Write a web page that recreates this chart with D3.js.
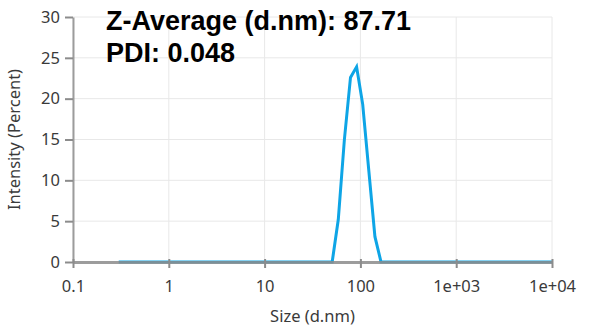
<!DOCTYPE html>
<html>
<head>
<meta charset="utf-8">
<script src="https://cdn.jsdelivr.net/npm/d3@7"></script>
<style>
  body { margin: 0; background: #fff; }
  svg { display: block; }
</style>
</head>
<body>
<div id="chart"></div>
<script>
// size distribution
var sizes = [0.3, 50.75, 58.77, 68.06, 78.82, 91.28, 105.7, 122.4, 141.8, 164.2, 10000];
var intensity = [0, 0, 5.2, 15.0, 22.6, 23.9, 19.3, 11.2, 3.1, 0, 0];
var xTicks = [0.1, 1, 10, 100, 1000, 10000];
var xTickLabels = ["0.1", "1", "10", "100", "1e+03", "1e+04"];
var yTicks = [0, 5, 10, 15, 20, 25, 30];
var zAverage = "87.71";
var pdi = "0.048";

var svgWidth = 593;
var svgHeight = 329;

var margin = { top: 17, right: 41, bottom: 67, left: 73 };
var width = svgWidth - margin.left - margin.right;
var height = svgHeight - margin.top - margin.bottom;

var svg = d3.select("#chart")
  .append("svg")
  .attr("width", svgWidth)
  .attr("height", svgHeight);

var chartGroup = svg.append("g")
  .attr("transform", `translate(${margin.left}, ${margin.top})`);

var x = d3.scaleLog().domain([0.1, 10000]).range([0, width]);
var y = d3.scaleLinear().domain([0, 30]).range([height, 0]);

// gridlines
chartGroup.append("g")
  .selectAll("line.hgrid")
  .data(yTicks)
  .enter()
  .append("line")
  .attr("x1", 0)
  .attr("x2", width)
  .attr("y1", d => y(d))
  .attr("y2", d => y(d))
  .attr("stroke", "#e8e8e8")
  .attr("stroke-width", 1);

chartGroup.append("g")
  .selectAll("line.vgrid")
  .data(xTicks)
  .enter()
  .append("line")
  .attr("x1", d => x(d))
  .attr("x2", d => x(d))
  .attr("y1", 0)
  .attr("y2", height)
  .attr("stroke", "#e8e8e8")
  .attr("stroke-width", 1);

// the distribution line
var line = d3.line()
  .x((d, i) => x(sizes[i]))
  .y(d => y(d));

chartGroup.append("path")
  .datum(intensity)
  .attr("d", line)
  .attr("fill", "none")
  .attr("stroke", "#0ea5e6")
  .attr("stroke-width", 3)
  .attr("stroke-linejoin", "miter");

// axes
var bottomAxis = d3.axisBottom(x)
  .tickValues(xTicks)
  .tickFormat((d, i) => xTickLabels[i])
  .tickSizeInner(6)
  .tickSizeOuter(0)
  .tickPadding(12);

var leftAxis = d3.axisLeft(y)
  .tickValues(yTicks)
  .tickSizeInner(8)
  .tickSizeOuter(0)
  .tickPadding(5);

var xAxis = chartGroup.append("g")
  .attr("transform", `translate(0, ${height})`)
  .call(bottomAxis);

xAxis.selectAll(".tick line").attr("y1", -3);

var yAxis = chartGroup.append("g")
  .call(leftAxis);

[xAxis, yAxis].forEach(function(ax) {
  ax.select(".domain").attr("stroke", "#8c8c8c").attr("stroke-width", 3).attr("stroke-opacity", 0.85);
  ax.selectAll(".tick line").attr("stroke", "#8c8c8c").attr("stroke-width", 2);
  ax.selectAll(".tick text")
    .attr("fill", "#3a3a3a")
    .attr("font-family", "Noto Sans, Open Sans, sans-serif")
    .attr("font-size", "16.5px");
});
yAxis.select(".domain").attr("stroke-width", 2);

// axis titles
chartGroup.append("text")
  .attr("x", width / 2)
  .attr("y", height + 60)
  .attr("text-anchor", "middle")
  .attr("fill", "#3a3a3a")
  .attr("font-family", "Noto Sans, Open Sans, sans-serif")
  .attr("font-size", "16.5px")
  .text("Size (d.nm)");

chartGroup.append("text")
  .attr("transform", "rotate(-90)")
  .attr("x", -height / 2)
  .attr("y", -53)
  .attr("text-anchor", "middle")
  .attr("fill", "#3a3a3a")
  .attr("font-family", "Noto Sans, Open Sans, sans-serif")
  .attr("font-size", "16.5px")
  .text("Intensity (Percent)");

// summary text
var info = svg.append("g")
  .attr("font-family", "Liberation Sans, Arial, sans-serif")
  .attr("font-weight", "bold")
  .attr("font-size", "27px")
  .attr("fill", "#000");

info.append("text")
  .attr("x", 106)
  .attr("y", 29.5)
  .text("Z-Average (d.nm): " + zAverage);

info.append("text")
  .attr("x", 106)
  .attr("y", 61.5)
  .text("PDI: " + pdi);
</script>
</body>
</html>
